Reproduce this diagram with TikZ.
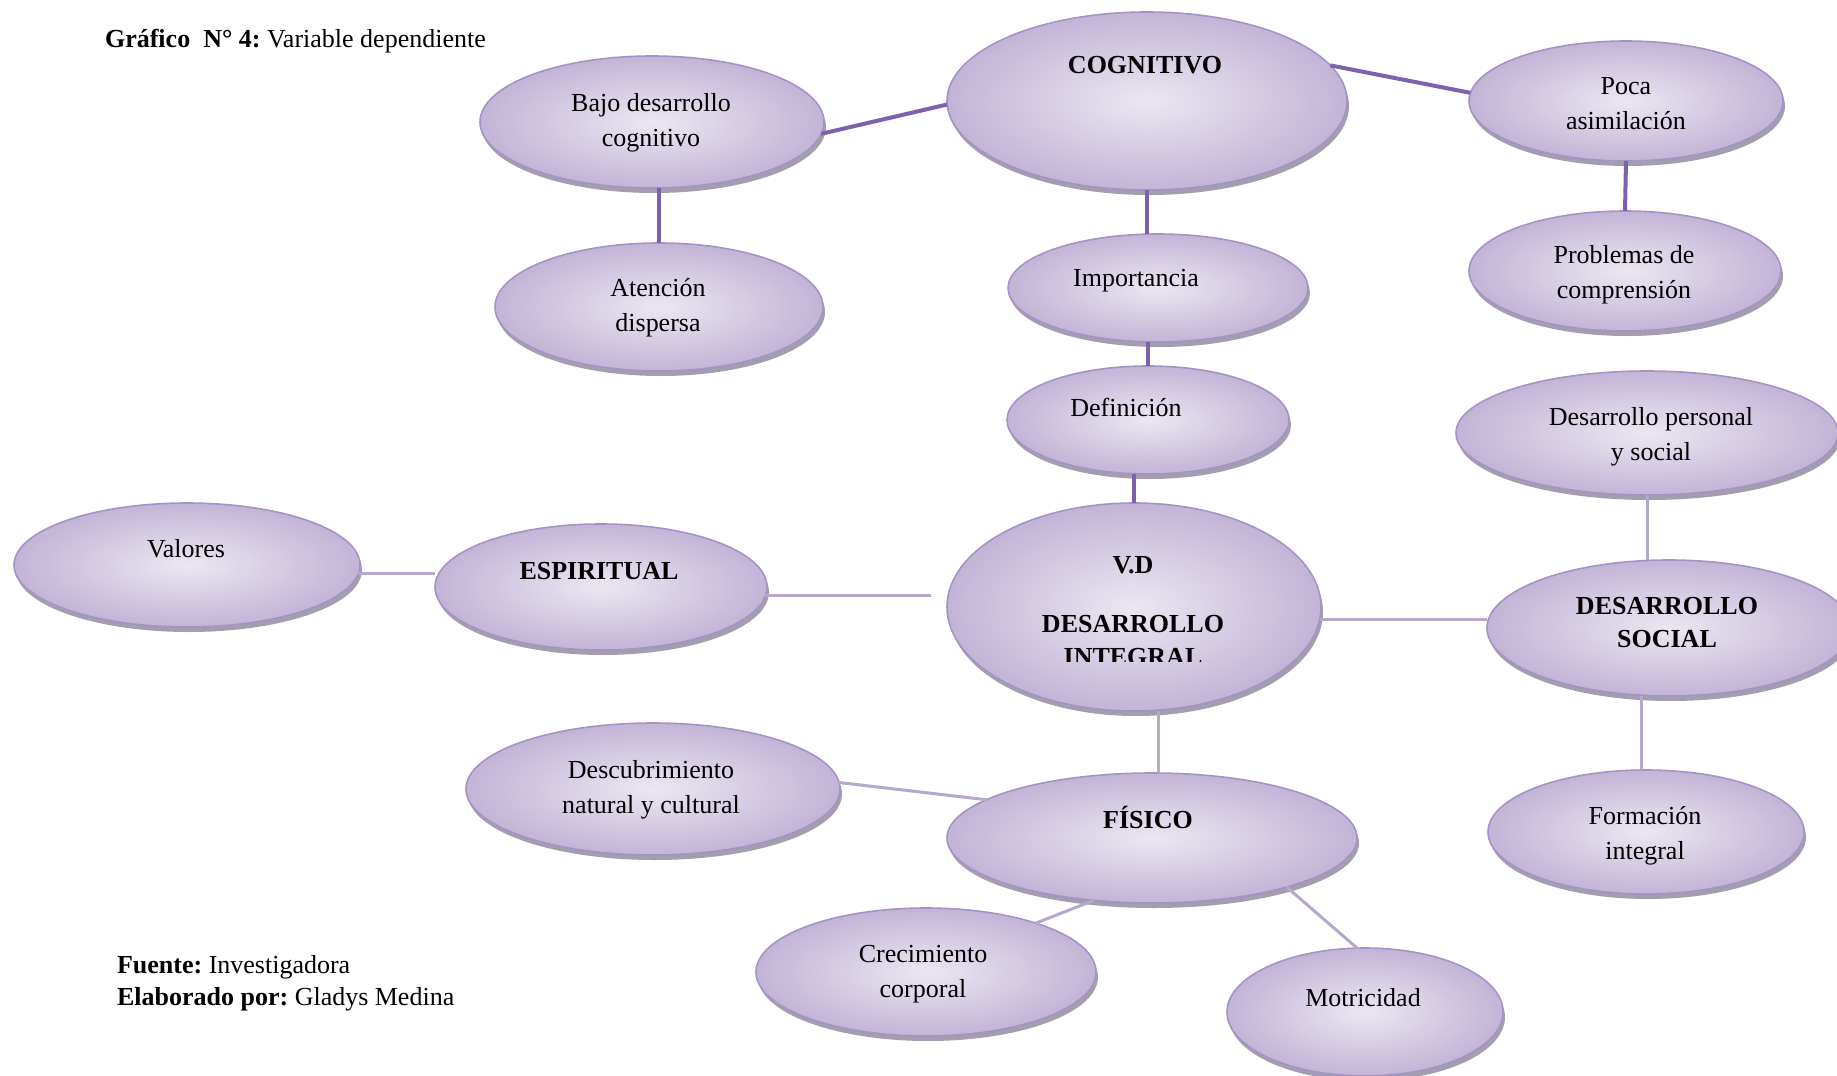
\documentclass[tikz,border=0pt]{standalone}
\usepackage{fontspec}
\setmainfont{Liberation Serif}
\frenchspacing
\usetikzlibrary{shapes.geometric,shadows}
\definecolor{lilaborde}{HTML}{A593C6}
\definecolor{lilaclaro}{HTML}{EBE7F1}
\definecolor{lilaoscuro}{HTML}{C3B4D7}
\definecolor{sombra}{HTML}{8C8698}
\definecolor{lineaoscura}{HTML}{7D61AC}
\definecolor{lineaclara}{HTML}{B6A7CD}

\begin{document}
\begin{tikzpicture}[line join=round,x=0.5pt,y=-0.5pt,
    burbuja/.style={ellipse,draw=lilaborde,line width=0.8pt,inner sep=0pt,outer sep=0pt,
      inner color=lilaclaro,outer color=lilaoscuro,
      drop shadow={shadow xshift=1pt,shadow yshift=-2.5pt,fill=sombra,opacity=0.8}},
    texto/.style={align=center,font=\fontsize{13}{17.5}\selectfont},
    titulo/.style={align=center,font=\fontsize{13}{16.5}\selectfont\bfseries},
    arriba/.style={draw=lineaoscura,line width=2pt},
    abajo/.style={draw=lineaclara,line width=1.5pt}]
    \useasboundingbox (0,0) rectangle (1837,1076);
    % bubbles
    \node[burbuja,minimum width=172pt,minimum height=66pt] (bajo) at (652,122) {};
    \node[burbuja,minimum width=200pt,minimum height=89pt] (cog) at (1147,101) {};
    \node[burbuja,minimum width=157pt,minimum height=60pt] (poca) at (1626,101) {};
    \node[burbuja,minimum width=164pt,minimum height=64pt] (aten) at (659,307) {};
    \node[burbuja,minimum width=150pt,minimum height=54pt] (imp) at (1158,288) {};
    \node[burbuja,minimum width=156pt,minimum height=60pt] (prob) at (1625,271) {};
    \node[burbuja,minimum width=141pt,minimum height=54pt] (def) at (1148,420) {};
    \node[burbuja,minimum width=191pt,minimum height=62pt] (dp) at (1647,433) {};
    \node[burbuja,minimum width=173pt,minimum height=62pt] (val) at (187,565) {};
    \node[burbuja,minimum width=166pt,minimum height=63pt] (esp) at (601,587) {};
    \node[burbuja,minimum width=187pt,minimum height=104pt] (vd) at (1134,607) {};
    \node[burbuja,minimum width=182pt,minimum height=68pt] (ds) at (1669,628) {};
    \node[burbuja,minimum width=187pt,minimum height=66pt] (desc) at (653,789) {};
    \node[burbuja,minimum width=205pt,minimum height=65pt] (fis) at (1152,838) {};
    \node[burbuja,minimum width=158pt,minimum height=62pt] (form) at (1646,832) {};
    \node[burbuja,minimum width=170pt,minimum height=64pt] (crec) at (926,972) {};
    \node[burbuja,minimum width=138pt,minimum height=64pt] (mot) at (1365,1012) {};
    % connectors
    \draw[arriba] (bajo.-4) -- (cog.181);
    \draw[arriba] (cog.11) -- (poca.177);
    \draw[arriba] (aten.north) -- (aten.north |- bajo.south);
    \draw[arriba] (cog.south) -- (cog.south |- imp.north);
    \draw[arriba] (poca.south) -- (prob.north);
    \draw[arriba] (def.north) -- (def.north |- imp.south);
    \draw[arriba] (vd.north) -- (vd.north |- def.south);
    \draw[abajo] (val.-3) -- (val.-3 -| esp.west);
    \draw[abajo,shorten >=8pt] (esp.-3) -- (esp.-3 -| vd.west);
    \draw[abajo] (vd.-4) -- (vd.-4 -| ds.west);
    \draw[abajo] (dp.south) -- (dp.south |- ds.north);
    \draw[abajo] ([xshift=-2.5pt]form.north) -- ([xshift=-2.5pt]form.north |- ds.south);
    \draw[abajo] ([xshift=3pt]fis.north) -- ([xshift=3pt]fis.north |- vd.south);
    \draw[abajo] (desc.2) -- (fis.167);
    \draw[abajo] (fis.-133) -- (crec.24);
    \draw[abajo] (fis.-20) -- (mot.97);
    % texts
    \node[texto] (tbajo) at (651,123) {Bajo desarrollo\\cognitivo};
    \node[titulo] (tcog) at (1145,65) {COGNITIVO};
    \node[texto] (tpoca) at (1626,104) {Poca\\asimilación};
    \node[texto] (taten) at (658,308) {Atención\\dispersa};
    \node[texto] (timp) at (1136,281) {Importancia};
    \node[texto] (tprob) at (1624,275) {Problemas de\\comprensión};
    \node[texto] (tdef) at (1126,407) {Definición};
    \node[texto] (tdp) at (1651,437) {Desarrollo personal\\y social};
    \node[texto] (tval) at (186,549) {Valores};
    \node[titulo] (tesp) at (599,571) {ESPIRITUAL};
    \begin{scope}
    \clip (900,500) rectangle (1400,661);
    \node[titulo] (tvd) at (1133,611) {V.D\\[13pt]DESARROLLO\\INTEGRAL};
    \end{scope}
    \node[titulo] (tds) at (1667,623) {DESARROLLO\\SOCIAL};
    \node[texto] (tdesc) at (651,790) {Descubrimiento\\natural y cultural};
    \node[titulo] (tfis) at (1148,817) {FÍSICO};
    \node[texto] (tform) at (1645,836) {Formación\\integral};
    \node[texto] (tcrec) at (923,974) {Crecimiento\\corporal};
    \node[texto] (tmot) at (1363,998) {Motricidad};
    \node[texto,anchor=west] (graf) at (98,41) {\textbf{Gráfico\ \ N° 4:} Variable dependiente};
    \node[texto,anchor=west,align=left,font=\fontsize{13}{15.8}\selectfont] (fuente) at (110,983) {\textbf{Fuente:} Investigadora\\\textbf{Elaborado por:} Gladys Medina};
\end{tikzpicture}
\end{document}
